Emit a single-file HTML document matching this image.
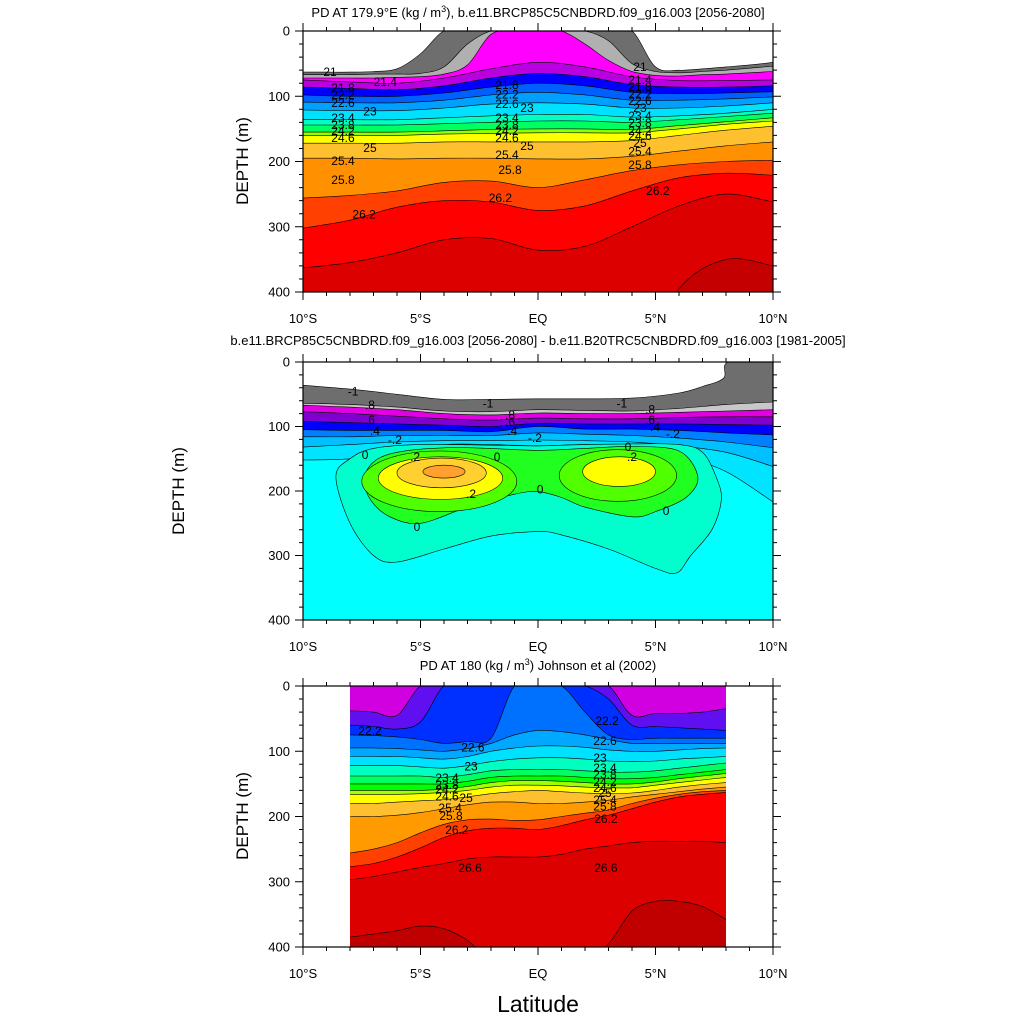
<!DOCTYPE html>
<html><head><meta charset="utf-8"><style>
html,body{margin:0;padding:0;background:#fff;width:1024px;height:1024px;overflow:hidden;}
svg{display:block;font-family:"Liberation Sans",sans-serif;}
</style></head><body>
<svg id="fig" width="1024" height="1024" viewBox="0 0 1024 1024" xmlns="http://www.w3.org/2000/svg" overflow="hidden">
<text x="538" y="17" font-size="13" text-anchor="middle">PD AT 179.9°E (kg / m<tspan font-size="9" dy="-5">3</tspan><tspan dy="5">), b.e11.BRCP85C5CNBDRD.f09_g16.003 [2056-2080]</tspan></text>
<text x="538" y="345" font-size="13" text-anchor="middle">b.e11.BRCP85C5CNBDRD.f09_g16.003 [2056-2080] - b.e11.B20TRC5CNBDRD.f09_g16.003 [1981-2005]</text>
<text x="538" y="670" font-size="13" text-anchor="middle">PD AT 180 (kg / m<tspan font-size="9" dy="-5">3</tspan><tspan dy="5">) Johnson et al (2002)</tspan></text>
<text transform="translate(248,161) rotate(-90)" font-size="17" text-anchor="middle">DEPTH (m)</text>
<text transform="translate(184,491) rotate(-90)" font-size="17" text-anchor="middle">DEPTH (m)</text>
<text transform="translate(248,816) rotate(-90)" font-size="17" text-anchor="middle">DEPTH (m)</text>
<text x="538" y="1012" font-size="23" text-anchor="middle">Latitude</text>
</svg>
<script>
// ---------- Panel 1 data (depth in m of each contour, band colours top->bottom) ----------
const p1LatFine = [-10,-9,-8,-7,-6,-5,-4,-3,-2,-1,0,1,2,3,4,5,6,7,8,9,10];
const p1Lat = [-10,-8,-6,-4,-2,0,2,4,6,8,10];
const p1Colors = ["#ffffff","#6e6e6e","#b0b0b0","#ff00ff","#b800e0","#0000ff","#0060ff","#00a0ff","#00e0ff","#00ffc0","#00ff60","#90ff00","#ffff00","#ffc030","#ff9000","#ff4000","#ff0000","#dd0000","#c40000"];
const p1Fine0 = [63,63,63,62,58,35,0,0,0,0,0,0,0,0,0,55,60,58,55,52,48];
const p1Fine1 = [67,67,67,66,66,65,55,20,0,0,0,0,0,15,50,62,64,62,60,57,54];
const p1Fine2 = [72,72,72,72,71,70,66,52,5,0,0,0,20,45,62,68,69,67,66,64,62];
const p1Depth = [
 [75,78,80,72,58,48,55,70,76,76,75],
 [86,88,90,84,72,65,70,82,86,86,84],
 [98,100,100,95,86,80,84,94,96,95,93],
 [109,110,110,106,98,94,98,106,106,104,101],
 [121,122,122,118,112,110,112,118,118,115,110],
 [136,136,136,133,130,128,128,132,130,126,120],
 [144,144,144,142,140,138,138,140,136,131,126],
 [155,155,155,153,151,150,150,151,145,139,133],
 [160,160,160,158,157,156,156,156,150,143,138],
 [172,172,172,170,170,170,170,168,160,152,146],
 [195,195,196,195,195,196,196,192,184,176,170],
 [256,252,245,232,230,240,228,214,205,200,198],
 [302,290,270,260,262,275,268,245,225,218,221],
 [363,355,340,320,318,336,330,300,268,250,262],
 [520,520,520,520,520,520,520,520,395,350,360]
];
const p1LabLat = [-8.85,-6.5,-8.3,-8.3,-8.3,-7.15,-8.3,-8.3,-8.3,-8.3,-7.15,-8.3,-8.3,-7.4,-1.32,-1.32,-1.32,-0.47,-1.32,-1.32,-1.32,-1.32,-0.47,-1.32,-1.19,-1.6,4.34,4.34,4.34,4.34,4.34,4.34,4.34,4.34,4.34,4.34,4.34,4.34,4.34,5.1];
const p1LabDepth = [63,78,87,98,110,123,133,144,153,164,179,199,228,281,83,97,112,118,133,144,153,164,176,190,213,256,55,75,86,97,107,118,130,141,153,161,172,185,205,245];
const p1LabText = ["21","21.4","21.8","22.2","22.6","23","23.4","23.8","24.2","24.6","25","25.4","25.8","26.2","21.8","22.2","22.6","23","23.4","23.8","24.2","24.6","25","25.4","25.8","26.2","21","21.4","21.8","22.2","22.6","23","23.4","23.8","24.2","24.6","25","25.4","25.8","26.2"];

// ---------- Panel 2 data ----------
const p2Lat = [-10,-8,-6,-4,-2,0,2,4,6,8,10];
const p2TopLat = [-10,-8,-6,-4,-2,0,2,4,6,7,7.9,8.1,10];
const p2TopDepth = [36,42,50,58,58,57,57,56,48,38,25,0,0];
const p2Colors = ["#ffffff","#6e6e6e","#c8c8c8","#e000e0","#8000d0","#0000ff","#0080ff","#00c0ff","#00e4ff","#00ffff"];
const p2Depth = [
 [64,66,70,76,77,74,75,76,72,66,62],
 [67,70,74,80,82,79,80,80,78,76,74],
 [77,80,84,88,90,87,88,88,86,85,85],
 [92,94,96,98,100,95,96,96,96,97,98],
 [105,106,106,106,108,100,104,104,106,110,113],
 [116,116,114,114,114,110,112,114,118,124,133],
 [132,128,124,122,122,121,122,124,130,140,162],
 [152,150,140,128,128,130,128,130,145,170,217]
];
const p2TealLat = [-8.6,-8,-7,-5,-2,0,2,4,6,7,7.6,7.8,7.4,6.5,5.9,5,3,1,0,-2,-4,-6,-7,-8];
const p2TealDepth = [178,150,134,128,129,130,128,127,128,140,180,214,260,300,327,320,290,268,263,270,290,310,300,250];
const p2GreenLat = [-7.4,-7,-6,-4,-2,0,2,4,6,6.8,6.3,5,4,2,1,0,-1,-3,-5,-6.3,-7.1];
const p2GreenDepth = [183,155,140,133,134,137,134,131,138,178,210,232,240,225,210,201,205,225,250,240,215];
const lobeLat = [-4.2,3.4,-4.15,3.45,-4.1,-4.0];
const lobeDepth = [185,176,180,170,172,170];
const lobeHalfLat = [3.3,2.5,2.65,1.55,1.9,0.9];
const lobeHalfDepth = [47,40,33,23,23,10];
const lobeColors = ["#50ff00","#50ff00","#ffff00","#ffff00","#ffd030","#ffa030"];
const p2LabLat = [-7.87,-2.13,3.57,-7.15,-1.19,4.77,-7.15,-1.19,4.77,-6.94,-1.1,4.98,-6.09,-0.13,5.74,-7.36,-1.74,3.83,0.09,-5.15,5.45,-5.23,-2.85,4.0];
const p2LabDepth = [46,64,64,67,82,74,90,93,90,107,107,101,121,118,112,144,147,132,198,256,231,147,205,147];
const p2LabText = ["-1","-1","-1",".8",".8",".8",".6",".6",".6",".4",".4",".4","-.2","-.2","-.2","0","0","0","0","0","0",".2",".2",".2"];

// ---------- Panel 3 data ----------
const p3Lat = [-8,-7,-6,-5,-4,-3,-2,-1,0,1,2,3,4,5,6,7,8];
const p3Colors = ["#d000e0","#6010f0","#0030ff","#0070ff","#00a8ff","#00e0ff","#00ffc0","#00ff60","#00ff00","#a0ff00","#ffff00","#ffc030","#ff9a00","#ff4000","#ff0000","#dd0000","#c00000"];
const p3Depth = [
 [38,40,45,0,0,0,0,0,0,0,0,0,45,42,42,40,35],
 [60,62,66,55,0,0,0,0,0,0,0,20,60,62,64,66,68],
 [75,76,78,82,88,85,80,0,0,0,40,75,82,80,80,80,80],
 [95,95,96,98,100,96,88,75,68,70,75,82,88,88,88,88,88],
 [108,108,108,110,112,108,100,95,92,92,94,98,100,100,98,96,95],
 [122,122,122,124,126,122,116,112,110,110,112,115,116,115,112,110,108],
 [138,138,138,138,140,136,130,128,128,128,130,132,132,130,126,122,118],
 [150,150,150,150,150,146,140,138,138,138,140,142,142,140,136,132,128],
 [160,160,160,160,158,154,148,145,145,146,148,150,150,147,142,138,134],
 [166,166,166,165,163,160,155,152,152,153,155,156,156,152,148,144,140],
 [180,180,178,176,174,170,165,162,160,162,164,165,164,160,155,151,148],
 [200,200,198,194,188,182,178,178,180,180,178,175,170,166,162,158,155],
 [256,250,240,225,212,205,204,206,205,200,195,190,180,172,166,162,160],
 [277,272,262,248,232,222,218,218,220,214,205,198,188,178,170,166,163],
 [297,292,285,278,272,265,262,262,262,258,250,245,240,238,238,238,240],
 [385,380,375,368,372,390,420,420,420,420,420,395,345,330,330,338,358]
];
const p3LabLat = [-7.15,2.94,-2.77,2.85,-2.85,2.64,-3.87,-3.87,-3.87,-3.87,-3.06,-3.74,-3.7,-3.45,-2.89,2.89,2.85,2.85,2.85,2.85,2.85,2.85,2.85,2.89];
const p3LabDepth = [69,54,94,84,123,110,141,152,159,169,172,187,199,221,279,279,126,136,147,156,164,175,185,204];
const p3LabText = ["22.2","22.2","22.6","22.6","23","23","23.4","23.8","24.2","24.6","25","25.4","25.8","26.2","26.6","26.6","23.4","23.8","24.2","24.6","25","25.4","25.8","26.2"];

// ---------- Axes ----------
const xTickVals = [-10,-5,0,5,10];
const xTickLabels = ["10°S","5°S","EQ","5°N","10°N"];
const yTickVals = [0,100,200,300,400];
const yTickLabels = ["0","100","200","300","400"];

const NS = "http://www.w3.org/2000/svg";
const svg = document.getElementById('fig');
const defs = document.createElementNS(NS, 'defs');
svg.appendChild(defs);
function mk(tag, attrs, parent){
  const e = document.createElementNS(NS, tag);
  for (const k in attrs) e.setAttribute(k, attrs[k]);
  (parent||svg).appendChild(e);
  return e;
}
function smoothPath(pts, closed){
  const n = pts.length;
  let d = "M" + pts[0][0].toFixed(1) + "," + pts[0][1].toFixed(1);
  const last = closed ? n : n - 1;
  for (let i = 0; i < last; i++){
    const p0 = pts[closed ? (i-1+n)%n : Math.max(i-1,0)];
    const p1 = pts[i];
    const p2 = pts[(i+1)%n];
    const p3 = pts[closed ? (i+2)%n : Math.min(i+2,n-1)];
    const c1x = p1[0] + (p2[0]-p0[0])/6, c1y = p1[1] + (p2[1]-p0[1])/6;
    const c2x = p2[0] - (p3[0]-p1[0])/6, c2y = p2[1] - (p3[1]-p1[1])/6;
    d += " C" + c1x.toFixed(1)+","+c1y.toFixed(1)+" "+c2x.toFixed(1)+","+c2y.toFixed(1)+" "+p2[0].toFixed(1)+","+p2[1].toFixed(1);
  }
  if (closed) d += " Z";
  return d;
}

function makePanel(id, x0, y0, w, h){
  const P = {x0, y0, w, h,
    xs: lat => x0 + (lat + 10) / 20 * w,
    ys: dep => y0 + dep / 400 * h};
  const cp = mk('clipPath', {id: 'clip-' + id}, defs);
  mk('rect', {x: x0, y: y0, width: w, height: h}, cp);
  P.g = mk('g', {'clip-path': 'url(#clip-' + id + ')'});
  
  
  return P;
}
function drawBands(P, name, latArr, depthArr, color, latMin, latMax){
  const pts = latArr.map((la, i) => [P.xs(la), P.ys(depthArr[i])]);
  const line = smoothPath(pts, false);
  const bot = P.y0 + P.h + 20;
  const fill = line + " L" + P.xs(latMax) + "," + bot + " L" + P.xs(latMin) + "," + bot + " Z";
  const f = mk('path', {d: fill, fill: color, stroke: 'none'}, P.g);
  
  
  const l = mk('path', {d: line, fill: 'none', stroke: '#000', 'stroke-width': 0.6}, P.g);
  
  
}
function drawClosed(P, name, latArr, depthArr, color){
  const pts = latArr.map((la, i) => [P.xs(la), P.ys(depthArr[i])]);
  const p = mk('path', {d: smoothPath(pts, true), fill: color, stroke: '#000', 'stroke-width': 0.6}, P.g);
  
  
}
function drawLabels(P, name, lats, deps, texts){
  for (let i = 0; i < texts.length; i++){
    const t = mk('text', {x: P.xs(lats[i]), y: P.ys(deps[i]) + 4, 'font-size': 12, 'text-anchor': 'middle', fill: '#000'}, P.g);
    
    
    t.textContent = texts[i];
  }
}
function drawAxes(P, id){
  const g = mk('g', {});
  
  
  const b = mk('rect', {x: P.x0, y: P.y0, width: P.w, height: P.h, fill: 'none', stroke: '#000', 'stroke-width': 1.2}, g);
  
  
  let d = "";
  for (let la = -10; la <= 10; la++){
    const x = P.xs(la), major = (la % 5 === 0), L = major ? 8 : 4;
    d += "M"+x+","+(P.y0+P.h)+" v"+L+" M"+x+","+P.y0+" v"+(-L)+" ";
  }
  for (let dep = 0; dep <= 400; dep += 20){
    const y = P.ys(dep), major = (dep % 100 === 0), L = major ? 8 : 4;
    d += "M"+P.x0+","+y+" h"+(-L)+" M"+(P.x0+P.w)+","+y+" h"+L+" ";
  }
  const tk = mk('path', {d, stroke: '#000', 'stroke-width': 1, fill: 'none'}, g);
  
  
  xTickVals.forEach((v, i) => {
    const t = mk('text', {x: P.xs(v), y: P.y0 + P.h + 31, 'font-size': 13, 'text-anchor': 'middle'}, g);
    
    
    t.textContent = xTickLabels[i];
  });
  yTickVals.forEach((v, i) => {
    const t = mk('text', {x: P.x0 - 13, y: P.ys(v) + 4.5, 'font-size': 13, 'text-anchor': 'end'}, g);
    
    
    t.textContent = yTickLabels[i];
  });
}

// Panel 1
const P1 = makePanel('panel1', 303, 31, 470, 261);
mk('rect', {x: P1.x0, y: P1.y0, width: P1.w, height: P1.h, fill: p1Colors[0]}, P1.g);
drawBands(P1, 'p1-c0', p1LatFine, p1Fine0, p1Colors[1], -10, 10);
drawBands(P1, 'p1-c1', p1LatFine, p1Fine1, p1Colors[2], -10, 10);
drawBands(P1, 'p1-c2', p1LatFine, p1Fine2, p1Colors[3], -10, 10);
p1Depth.forEach((arr, i) => drawBands(P1, 'p1-c' + (i + 3), p1Lat, arr, p1Colors[i + 4], -10, 10));
drawLabels(P1, 'p1', p1LabLat, p1LabDepth, p1LabText);
drawAxes(P1, 'panel1');

// Panel 2
const P2 = makePanel('panel2', 303, 362, 470, 258);
mk('rect', {x: P2.x0, y: P2.y0, width: P2.w, height: P2.h, fill: p2Colors[0]}, P2.g);
drawBands(P2, 'p2-top', p2TopLat, p2TopDepth, p2Colors[1], -10, 10);
p2Depth.forEach((arr, i) => drawBands(P2, 'p2-c' + (i + 1), p2Lat, arr, p2Colors[i + 2], -10, 10));
drawClosed(P2, 'p2-zero-region', p2TealLat, p2TealDepth, '#00ffcc');
drawClosed(P2, 'p2-positive-region', p2GreenLat, p2GreenDepth, '#20ff20');
lobeLat.forEach((la, i) => {
  const e = mk('ellipse', {cx: P2.xs(la), cy: P2.ys(lobeDepth[i]), rx: lobeHalfLat[i] / 20 * P2.w, ry: lobeHalfDepth[i] / 400 * P2.h, fill: lobeColors[i], stroke: '#000', 'stroke-width': 0.6}, P2.g);
  
  
});
drawLabels(P2, 'p2', p2LabLat, p2LabDepth, p2LabText);
drawAxes(P2, 'panel2');

// Panel 3
const P3 = makePanel('panel3', 303, 686, 470, 261);
const cp3 = mk('clipPath', {id: 'clip-p3data'}, defs);
mk('rect', {x: P3.xs(-8), y: P3.y0, width: P3.xs(8) - P3.xs(-8), height: P3.h}, cp3);
const g3 = mk('g', {'clip-path': 'url(#clip-p3data)'}, P3.g);


P3.g = g3;
mk('rect', {x: P3.xs(-8), y: P3.y0, width: P3.xs(8) - P3.xs(-8), height: P3.h, fill: p3Colors[0]}, P3.g);
p3Depth.forEach((arr, i) => drawBands(P3, 'p3-c' + i, p3Lat, arr, p3Colors[i + 1], -8, 8));
drawLabels(P3, 'p3', p3LabLat, p3LabDepth, p3LabText);
drawAxes(P3, 'panel3');
</script>
</body></html>
